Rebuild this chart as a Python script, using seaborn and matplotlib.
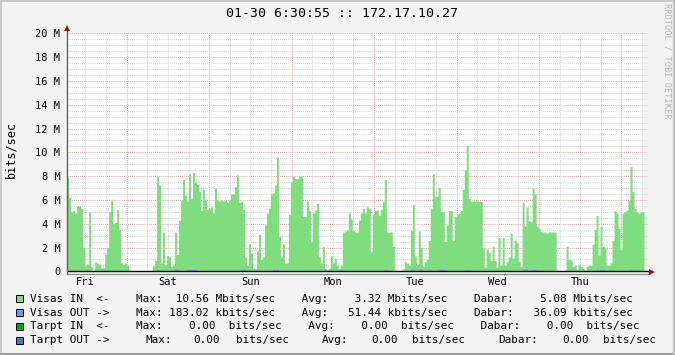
import matplotlib
matplotlib.use("Agg")
import numpy as np
import pandas as pd
import matplotlib.pyplot as plt
from matplotlib.lines import Line2D
from matplotlib.patches import Rectangle
import seaborn as sns

# ---------------- data ----------------
title = "01-30 6:30:55 :: 172.17.10.27"
day_labels = ["Fri", "Sat", "Sun", "Mon", "Tue", "Wed", "Thu"]
y_tick_values_m = [0, 2, 4, 6, 8, 10, 12, 14, 16, 18, 20]
y_tick_labels = ["0", "2 M", "4 M", "6 M", "8 M", "10 M", "12 M", "14 M", "16 M", "18 M", "20 M"]
hours_total = 168.0
first_label_hour = 5.45   # noon label offset from graph start (hours)

# Visas IN, Mbits/sec, one sample per ~35 min
visas_in_mbits = [
    7.9, 6.2, 5.0, 5.1, 4.9, 5.5, 5.5, 5.3, 2.0, 0.5, 0.6, 5.0,
    0.4, 0.0, 0.8, 0.7, 0.6, 0.3, 0.3, 1.4, 2.0, 5.0, 6.0, 4.0,
    4.1, 5.2, 3.5, 0.7, 0.6, 0.7, 0.5, 0.1, 0, 0, 0, 0,
    0, 0, 0, 0, 0, 0, 0, 0.5, 0.9, 8.0, 7.25, 0.7,
    3.3, 0.6, 1.3, 1.2, 0.4, 0.5, 3.3, 1.4, 4.3, 6.0, 7.7, 6.4,
    5.9, 8.2, 6.1, 8.3, 7.5, 7.3, 6.7, 5.1, 6.9, 6.0, 5.2, 5.3,
    5.4, 4.9, 7.0, 6.0, 5.9, 6.0, 5.9, 6.0, 5.8, 6.0, 6.5, 6.5,
    7.1, 8.1, 5.8, 5.9, 5.2, 1.2, 0.5, 2.3, 1.5, 0.25, 0.2, 1.7,
    3.1, 1.0, 1.2, 3.9, 4.9, 5.3, 6.5, 6.6, 7.25, 9.6, 2.9, 1.2,
    2.3, 0.7, 0.7, 4.8, 7.5, 8.0, 7.8, 7.8, 8.0, 8.0, 4.6, 4.6,
    5.9, 5.1, 2.5, 4.9, 5.15, 5.7, 1.2, 0.7, 2.1, 0.25, 0.15, 0.25,
    1.35, 0.7, 1.1, 0.5, 0.25, 0.5, 3.3, 3.4, 3.5, 4.9, 4.4, 3.4,
    3.3, 3.3, 4.3, 4.9, 5.3, 4.9, 5.4, 5.3, 1.65, 4.8, 5.1, 5.15,
    4.7, 5.2, 5.85, 7.7, 3.3, 3.25, 3.3, 2.1, 0.1, 0.05, 0.05, 0.1,
    0.2, 0.8, 0.7, 0.5, 3.4, 5.6, 1.3, 0.55, 3.4, 2.0, 0.4, 0.8,
    1.0, 2.6, 5.3, 8.2, 6.3, 6.3, 7.05, 5.0, 5.0, 2.5, 3.9, 5.1,
    5.1, 2.6, 4.6, 4.8, 4.9, 5.1, 6.9, 8.5, 10.56, 6.1, 5.9, 5.9,
    5.9, 5.9, 5.9, 5.9, 2.0, 0.35, 1.9, 1.6, 0.9, 2.1, 0.9, 0.35,
    2.85, 0.5, 2.85, 0.5, 0.8, 1.2, 3.2, 1.1, 2.6, 2.4, 0.85, 0.4,
    5.8, 3.8, 5.4, 4.25, 4.15, 7.0, 6.5, 3.8, 3.6, 3.35, 3.3, 3.3,
    3.2, 3.3, 3.3, 3.3, 3.3, 0.1, 0, 0, 0, 0.1, 2.1, 1.0,
    0.95, 0.4, 0.5, 0.15, 0.6, 0.4, 0.25, 0.1, 0.45, 0.5, 0.5, 2.3,
    3.5, 4.7, 1.35, 3.8, 2.1, 2.0, 0.5, 0.5, 0.7, 2.6, 5.1, 4.9,
    3.6, 1.85, 4.9, 5.0, 5.15, 6.0, 8.8, 6.7, 5.3, 5.0, 4.9, 5.0, 5.0,
]

# Visas OUT, kbits/sec
visas_out_kbits = [
    40, 40, 40, 40, 40, 40, 40, 40, 40, 40, 40, 40,
    40, 40, 40, 40, 40, 40, 40, 40, 40, 40, 40, 40,
    40, 40, 40, 40, 40, 40, 40, 40, 40, 40, 40, 40,
    40, 40, 40, 40, 40, 40, 40, 40, 40, 160, 40, 40,
    40, 40, 40, 40, 40, 40, 160, 160, 40, 40, 40, 40,
    160, 183, 160, 160, 160, 40, 40, 40, 40, 40, 40, 40,
    40, 40, 40, 40, 40, 40, 40, 40, 40, 40, 40, 40,
    40, 40, 40, 160, 160, 40, 40, 40, 40, 40, 40, 40,
    40, 40, 40, 40, 40, 40, 40, 160, 160, 160, 40, 40,
    40, 40, 40, 40, 40, 40, 40, 40, 40, 40, 40, 40,
    40, 40, 40, 40, 40, 40, 40, 40, 40, 160, 40, 40,
    40, 40, 40, 40, 40, 160, 40, 40, 40, 40, 40, 40,
    40, 40, 40, 40, 40, 40, 40, 40, 40, 40, 40, 40,
    40, 40, 40, 160, 40, 40, 40, 40, 40, 40, 40, 40,
    40, 40, 40, 40, 160, 160, 40, 40, 160, 160, 40, 40,
    40, 160, 40, 40, 40, 40, 160, 160, 160, 160, 40, 40,
    40, 40, 40, 40, 40, 40, 40, 40, 160, 40, 40, 40,
    40, 40, 40, 40, 40, 40, 40, 40, 40, 40, 40, 40,
    40, 40, 40, 40, 40, 40, 40, 40, 40, 40, 40, 40,
    160, 160, 160, 40, 160, 160, 160, 40, 40, 40, 40, 40,
    40, 40, 40, 40, 40, 40, 40, 40, 40, 40, 40, 40,
    40, 40, 40, 40, 40, 40, 40, 40, 40, 40, 40, 40,
    40, 160, 40, 160, 160, 40, 40, 40, 40, 40, 40, 40,
    40, 40, 40, 40, 40, 40, 160, 40, 40, 40, 40, 40, 40,
]

legend_names = ["Visas IN  <-", "Visas OUT ->", "Tarpt IN  <-", "Tarpt OUT ->"]
legend_colors = ["#7FDC7F", "#8090FF", "#00A800", "#5470C0"]
legend_stats = [
    "    Max:  10.56 Mbits/sec    Avg:    3.32 Mbits/sec    Dabar:    5.08 Mbits/sec",
    "    Max: 183.02 kbits/sec    Avg:   51.44 kbits/sec    Dabar:   36.09 kbits/sec",
    "    Max:    0.00  bits/sec    Avg:    0.00  bits/sec    Dabar:    0.00  bits/sec",
]
last_row_tokens = ["Max:", "0.00", "bits/sec", "Avg:", "0.00", "bits/sec", "Dabar:", "0.00", "bits/sec"]

assert len(visas_in_mbits) == len(visas_out_kbits)

# ---------------- figure ----------------
W, H = 675, 355
sns.set_style("white")
plt.rcParams["font.family"] = ["DejaVu Sans Mono", "DejaVu Sans"]
MONO = "DejaVu Sans Mono"

fig = plt.figure(figsize=(W / 100, H / 100), dpi=100, facecolor="#F3F3F3")
left_px, right_px, top_px, bot_px = 66.7, 644.0, 33.3, 271.3
ax_h_px = bot_px - top_px
ax = fig.add_axes([left_px / W, (H - bot_px) / H, (right_px - left_px) / W, ax_h_px / H])
ax.set_facecolor("white")
for s in ax.spines.values():
    s.set_visible(False)

n = len(visas_in_mbits)
step_h = hours_total / n
centers = (np.arange(n) + 0.5) * step_h
df = pd.DataFrame({
    "t": centers,
    "vin": np.array(visas_in_mbits, dtype=float) * 1e6,
    "vout": np.array(visas_out_kbits, dtype=float) * 1e3,
})

sns.histplot(data=df, x="t", weights="vin", bins=n, binrange=(0, hours_total),
             element="step", fill=True, color=legend_colors[0], alpha=1,
             linewidth=0, ax=ax, zorder=3)
sns.histplot(data=df, x="t", weights="vout", bins=n, binrange=(0, hours_total),
             element="step", fill=True, color=legend_colors[1], alpha=1,
             linewidth=0, ax=ax, zorder=4)

ax.set_xlim(0, hours_total)
ax.set_ylim(0, 20e6)
ax.set_xlabel("")
ax.set_ylabel("")

# grid
gray = "#D8D8D8"
red = "#EEA8A8"
dot = (0, (1, 1))
for k in range(0, 41):
    yv = k * 0.5e6
    if k % 4 == 0:
        continue
    ax.axhline(yv, color=gray, lw=0.75, ls=dot, zorder=1, xmax=1.005, clip_on=False)
for m in y_tick_values_m[1:]:
    ax.axhline(m * 1e6, color=red, lw=0.75, ls=dot, zorder=1.5, xmax=1.005, clip_on=False)
six = np.arange(first_label_hour % 6, hours_total, 6.0)
mid = np.arange(first_label_hour + 12, hours_total, 24.0)
for xv in six:
    if np.min(np.abs(mid - xv)) < 0.1:
        continue
    ax.axvline(xv, color=gray, lw=0.75, ls=dot, zorder=1)
for xv in mid:
    ax.axvline(xv, color=red, lw=0.75, ls=dot, zorder=1.5)

# ticks
ax.set_yticks([m * 1e6 for m in y_tick_values_m])
ax.set_yticklabels(y_tick_labels, fontfamily=MONO, fontsize=7.5)
ax.tick_params(axis="y", length=2, width=0.75, color="#808080", pad=2.5, labelcolor="#000000")
ax.set_xticks(first_label_hour + 24 * np.arange(len(day_labels)))
ax.set_xticklabels(day_labels, fontfamily=MONO, fontsize=7.5)
ax.tick_params(axis="x", which="major", length=0, pad=4, labelcolor="#000000")
ax.set_xticks(mid, minor=True)
ax.tick_params(axis="x", which="minor", length=3.2, width=0.75, color="#D06060", direction="out")

# axis lines and arrows
below = -2.3 / ax_h_px
ax.add_line(Line2D([0, 1.011], [below, below], transform=ax.transAxes, color="#8A8A8A",
                   lw=0.8, clip_on=False, zorder=6))
ax.add_line(Line2D([0, 1.011], [0, 0], transform=ax.transAxes, color="#000000",
                   lw=1, clip_on=False, zorder=6))
ax.add_line(Line2D([0, 0], [below, 1.02], transform=ax.transAxes, color="#606060",
                   lw=1, clip_on=False, zorder=6))
ax.plot([1.013], [below / 2], marker=">", markersize=4.5, color="#A01010", transform=ax.transAxes,
        clip_on=False, zorder=7, markeredgewidth=0)
ax.plot([0], [1.022], marker="^", markersize=4.5, color="#A01010", transform=ax.transAxes,
        clip_on=False, zorder=7, markeredgewidth=0)

# texts
fig.text(341.5 / W, 1 - 13.5 / H, title, ha="center", va="center", fontfamily=MONO,
         fontsize=9.5, color="#000000")
fig.text(10.5 / W, 1 - 150 / H, "bits/sec", rotation=90, ha="center", va="center",
         fontfamily=MONO, fontsize=8.5, color="#000000")
fig.text(666.5 / W, 1 - 60.5 / H, "RRDTOOL / TOBI OETIKER", rotation=270, ha="center",
         va="center", fontfamily=MONO, fontsize=6.2, color="#B4B4B4")

# legend
LFS = 7.9
row_y = [298.8, 312.6, 326.4, 340.2]
for i, (name, col) in enumerate(zip(legend_names, legend_colors)):
    yc = row_y[i]
    fig.add_artist(Rectangle((15.5 / W, 1 - (yc + 3.6) / H), 7.2 / W, 7.2 / H,
                             transform=fig.transFigure, facecolor=col,
                             edgecolor="#000000", lw=0.7))
    if i < 3:
        fig.text(30 / W, 1 - yc / H, name + legend_stats[i], ha="left", va="center",
                 fontfamily=MONO, fontsize=LFS, color="#000000")
    else:
        fig.text(30 / W, 1 - yc / H, name, ha="left", va="center",
                 fontfamily=MONO, fontsize=LFS, color="#000000")
        xs = [145, 193.7, 236, 322, 371, 412, 498.5, 562, 602.7]
        for tok, xp in zip(last_row_tokens, xs):
            fig.text(xp / W, 1 - yc / H, tok, ha="left", va="center",
                     fontfamily=MONO, fontsize=LFS, color="#000000")

# frame
fig.add_artist(Line2D([0, 1], [1 - 1 / H, 1 - 1 / H], transform=fig.transFigure, color="#CBCBCB", lw=1.5))
fig.add_artist(Line2D([1 / W, 1 / W], [0, 1], transform=fig.transFigure, color="#CBCBCB", lw=1.5))
fig.add_artist(Line2D([0, 1], [1.5 / H, 1.5 / H], transform=fig.transFigure, color="#9C9C9C", lw=2.2))
fig.add_artist(Line2D([1 - 1 / W, 1 - 1 / W], [0, 1], transform=fig.transFigure, color="#BDBDBD", lw=1.5))

fig.savefig("out.png", dpi=100, facecolor=fig.get_facecolor())
